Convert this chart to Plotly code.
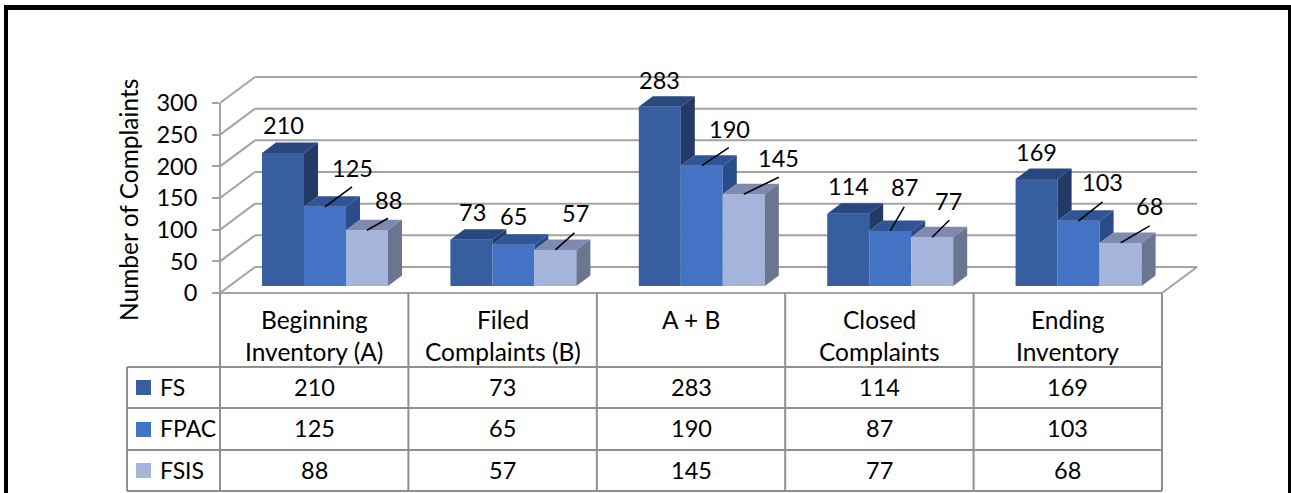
import plotly.graph_objects as go

# ---------- data ----------
series_names = ["FS", "FPAC", "FSIS"]
fs_values = [210, 73, 283, 114, 169]
fpac_values = [125, 65, 190, 87, 103]
fsis_values = [88, 57, 145, 77, 68]
category_lines = [
    ["Beginning", "Inventory (A)"],
    ["Filed", "Complaints (B)"],
    ["A + B"],
    ["Closed", "Complaints"],
    ["Ending", "Inventory"],
]
y_ticks = [0, 50, 100, 150, 200, 250, 300]
y_title = "Number of Complaints"

# ---------- style ----------
front_colors = ["#375E9F", "#4472C4", "#A5B4DB"]
top_colors = ["#2A4880", "#2F5597", "#8089AF"]
side_colors = ["#233A66", "#2A4C88", "#6A758F"]
GRID = "#A3A3A3"
TABLE = "#8F8F8F"
FONT = "Lato"
FS_TEXT = 24.5
FS_NUM = 23.5
FS_SERIES = 23

# data-label offsets from the bar-top centre, in px: (label dx, label dy, leader dx, leader dy)
label_offsets = [
    [(0, -28, 0, 0), (1, -28, 0, 0), (0, -27, 0, 0), (0, -28, 0, 0), (0, -27, 0, 0)],
    [(27, -39, 27, -20), (0, -29, 0, 0), (28, -37, 27, -18), (14, -44, 14, -24), (24, -39, 24, -19)],
    [(21, -30, 21, -12), (20, -37, 19, -17), (35, -36, 35, -17), (16, -36, 17, -17), (29, -37, 29, -17)],
]

# ---------- layout geometry ----------
W, H = 1291, 493
L, R, T, B = 220, 1210, 60, 293      # plot rectangle in px
CAT_PX = 188.4                       # px per category
UNIT_PX = 190 / 300                  # px per complaint
x_top = (R - L) / CAT_PX
y_top = (B - T) / UNIT_PX

WALL_DX = 35 / CAT_PX                # back wall shift
WALL_DY = 26 / UNIT_PX
BAR_W = 42 / CAT_PX
BAR_START = 42 / CAT_PX
BAR_DX = 14 / CAT_PX                 # bar depth
BAR_DY = 10.5 / UNIT_PX
FLOOR = 7 / UNIT_PX                  # bars stand a little behind the front edge


def px(v):
    return (v - L) / (R - L)


def py(v):
    return (B - v) / (B - T)


def line(x0, y0, x1, y1, color, width, layer="below", xref="x", yref="y"):
    return dict(type="line", x0=x0, y0=y0, x1=x1, y1=y1, xref=xref, yref=yref,
                layer=layer, line=dict(color=color, width=width))


def rect(x0, y0, x1, y1, color):
    return dict(type="rect", x0=px(x0), y0=py(y0), x1=px(x1), y1=py(y1),
                xref="paper", yref="paper", layer="above",
                fillcolor=color, line=dict(width=0))


def poly(xs, ys, color):
    return go.Scatter(x=xs + xs[:1], y=ys + ys[:1], mode="lines", fill="toself",
                      fillcolor=color, line=dict(width=0, color=color),
                      hoverinfo="skip", showlegend=False)


series = [fs_values, fpac_values, fsis_values]
n_cat = len(fs_values)
shapes = []
annotations = []
fig = go.Figure()

# ---------- walls ----------
for t in y_ticks:
    shapes.append(line(WALL_DX, t + WALL_DY, n_cat + WALL_DX, t + WALL_DY, GRID, 2))
    shapes.append(line(0, t, WALL_DX, t + WALL_DY, GRID, 2))
shapes.append(line(n_cat, 0, n_cat + WALL_DX, WALL_DY, GRID, 2))
# front edges: vertical axis up to the top tick, floor up to the last category
shapes.append(line(0, py(B - y_ticks[-1] * UNIT_PX), 0, 0, GRID, 2, "below", "paper", "paper"))
shapes.append(line(0, 0, px(L + n_cat * CAT_PX), 0, GRID, 2, "below", "paper", "paper"))

# ---------- bars ----------
for s, values in enumerate(series):
    xs = [c + BAR_START + (s + 0.5) * BAR_W for c in range(n_cat)]
    fig.add_trace(go.Bar(x=xs, y=values, base=[FLOOR] * n_cat, width=BAR_W,
                         marker=dict(color=front_colors[s], line=dict(width=0)),
                         name=series_names[s], showlegend=False))
    for c, v in enumerate(values):
        x0 = c + BAR_START + s * BAR_W
        x1 = x0 + BAR_W
        top = v + FLOOR
        # top face
        fig.add_trace(poly([x0, x1, x1 + BAR_DX, x0 + BAR_DX],
                           [top, top, top + BAR_DY, top + BAR_DY], top_colors[s]))
        # visible part of the side face (the next bar hides what is below its top)
        low = series[s + 1][c] + FLOOR if s < 2 else FLOOR
        fig.add_trace(poly([x1, x1 + BAR_DX, x1 + BAR_DX, x1],
                           [top, top + BAR_DY, low + BAR_DY, low], side_colors[s]))

# ---------- data labels with leader lines ----------
for s, values in enumerate(series):
    for c, v in enumerate(values):
        cx = c + BAR_START + (s + 0.5) * BAR_W
        top = v + FLOOR
        dx, dy, ldx, ldy = label_offsets[s][c]
        annotations.append(dict(x=cx, y=top, xref="x", yref="y", text=str(v), showarrow=False,
                                xshift=dx, yshift=-dy, font=dict(family=FONT, size=FS_NUM, color="#000"),
                                xanchor="center", yanchor="middle"))
        if ldx or ldy:
            fig.add_trace(go.Scatter(x=[cx, cx + ldx / CAT_PX], y=[top, top - ldy / UNIT_PX],
                                     mode="lines", line=dict(color="#000000", width=1.6),
                                     hoverinfo="skip", showlegend=False))

# ---------- data table ----------
row_lines = [367, 408, 450, 491]
row_centres = [388, 429, 471]
swatch_tops = [380, 422, 463]
TABLE_LEFT = 127
for c in range(n_cat + 1):
    xp = px(L + c * CAT_PX)
    shapes.append(line(xp, py(B), xp, py(491), TABLE, 2, "above", "paper", "paper"))
shapes.append(line(px(TABLE_LEFT), py(367), px(TABLE_LEFT), py(491), TABLE, 2, "above", "paper", "paper"))
for y in row_lines:
    shapes.append(line(px(TABLE_LEFT), py(y), px(L + n_cat * CAT_PX), py(y), TABLE, 2, "above", "paper", "paper"))

for c, lines in enumerate(category_lines):
    xc = px(L + (c + 0.5) * CAT_PX)
    for i, txt in enumerate(lines):
        annotations.append(dict(x=xc, y=py(319 + 32 * i), xref="paper", yref="paper", text=txt,
                                showarrow=False, font=dict(family=FONT, size=FS_TEXT, color="#000"),
                                xanchor="center", yanchor="middle"))

for s, values in enumerate(series):
    shapes.append(rect(136, swatch_tops[s], 151, swatch_tops[s] + 15, front_colors[s]))
    annotations.append(dict(x=px(158), y=py(row_centres[s] - 1), xref="paper", yref="paper",
                            text=series_names[s], showarrow=False,
                            font=dict(family=FONT, size=FS_SERIES, color="#000"),
                            xanchor="left", yanchor="middle"))
    for c, v in enumerate(values):
        annotations.append(dict(x=px(L + (c + 0.5) * CAT_PX), y=py(row_centres[s] - 1), xref="paper", yref="paper",
                                text=str(v), showarrow=False,
                                font=dict(family=FONT, size=FS_NUM, color="#000"),
                                xanchor="center", yanchor="middle"))

# ---------- axis title ----------
annotations.append(dict(x=px(129), y=py(200), xref="paper", yref="paper", text=y_title,
                        textangle=-90, showarrow=False,
                        font=dict(family=FONT, size=FS_TEXT, color="#000"),
                        xanchor="center", yanchor="middle"))

# ---------- page frame ----------
shapes.append(rect(4, 5, W, 10, "#000000"))
shapes.append(rect(4, 5, 8, H, "#000000"))
shapes.append(rect(1288, 5, W, H, "#000000"))

fig.update_layout(
    width=W, height=H, autosize=False,
    margin=dict(l=L, r=W - R, t=T, b=H - B, pad=0),
    paper_bgcolor="#FFFFFF", plot_bgcolor="rgba(0,0,0,0)",
    barmode="overlay", showlegend=False,
    font=dict(family=FONT, size=FS_NUM, color="#000000"),
    shapes=shapes, annotations=annotations,
    xaxis=dict(range=[0, x_top], showgrid=False, zeroline=False, showticklabels=False,
               ticks="", showline=False, fixedrange=True),
    yaxis=dict(range=[0, y_top], tickmode="array", tickvals=y_ticks, showgrid=False, zeroline=False,
               ticks="outside", ticklen=7, tickwidth=2, tickcolor=GRID, showline=False,
               tickfont=dict(family=FONT, size=FS_NUM, color="#000"),
               ticklabelstandoff=10, fixedrange=True),
)

fig.write_html("out.html", config={"displayModeBar": False},
               post_script="document.body.style.margin='0';document.body.style.overflow='hidden';")
